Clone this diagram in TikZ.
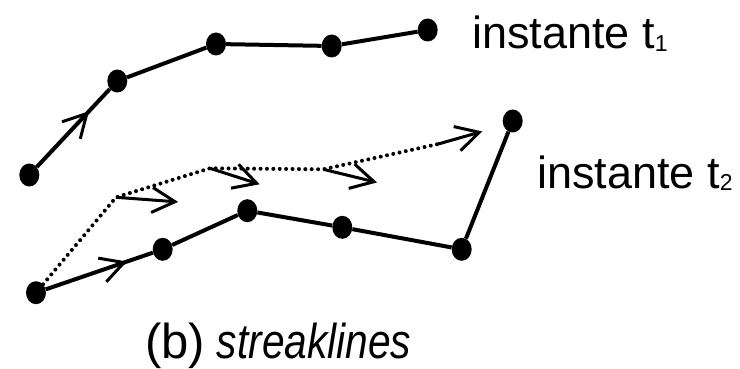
\documentclass[tikz,border=0pt]{standalone}
\usepackage{fontspec}
\setmainfont{Liberation Sans}
\usetikzlibrary{decorations.markings,shapes.geometric}
\begin{document}
\begin{tikzpicture}[x=1pt,y=-1pt,
  pt/.style={ellipse, fill=black, draw=none, inner sep=0pt, minimum width=20pt, minimum height=23pt},
  solidline/.style={line width=4pt},
  dotline/.style={line width=4pt, line cap=round, dash pattern=on 0pt off 6.4pt},
  arrowline/.style={line width=3pt},
  chevron/.style={postaction={decorate}, decoration={markings, mark=at position #1 with {\draw[solid, line width=3pt, line cap=butt, line join=miter, miter limit=10] (-23pt,12.5pt) -- (0pt,0pt) -- (-23pt,-12.5pt);}}},
  lbl/.style={font=\fontsize{45}{54}\selectfont, inner sep=0pt, anchor=base west},
  caplbl/.style={font=\fontsize{49}{56}\selectfont, inner sep=0pt, anchor=base west},
]
\useasboundingbox (0,0) rectangle (740,369);
% instant t1
\node[pt] (A1) at (29.3,175) {};
\node[pt] (A2) at (117.3,81) {};
\node[pt] (A3) at (216,44) {};
\node[pt] (A4) at (331.7,46) {};
\node[pt] (A5) at (427.7,30) {};
% instant t2
\node[pt] (B1) at (36,292.7) {};
\node[pt] (B2) at (162.7,249.3) {};
\node[pt] (B3) at (247.3,210.7) {};
\node[pt] (B4) at (342.3,227.3) {};
\node[pt] (B5) at (461.7,249.3) {};
\node[pt] (B6) at (512.7,121) {};
% solid lines
\draw[solidline] (A1) -- (A2) -- (A3) -- (A4) -- (A5);
\draw[solidline] (B1) -- (B2) -- (B3) -- (B4) -- (B5) -- (B6);
\path[chevron=0.654] (A1.center) -- (A2.center);
\path[chevron=0.695] (B1.center) -- (B2.center);
% dotted path
\coordinate (D1) at (116,197.3);
\coordinate (D2) at (210,168.3);
\coordinate (D3) at (323.3,169.3);
\coordinate (D4) at (438.3,144);
\coordinate (E1) at (175,201.7);
\coordinate (E2) at (256.7,183.3);
\coordinate (E3) at (374,181.7);
\coordinate (E4) at (479.3,132.3);
\draw[dotline] (B1) -- (D1) -- (D2) -- (D3) -- (D4);
\draw[arrowline, chevron=1] (D1) -- (E1);
\draw[arrowline, chevron=1] (D2) -- (E2);
\draw[arrowline, chevron=1] (D3) -- (E3);
\draw[arrowline, chevron=1] (D4) -- (E4);
% labels
\node[lbl] (t1) at (472,48.8) {instante t\raisebox{-2.5pt}{\fontsize{23}{23}\selectfont 1}};
\node[lbl] (t2) at (537,188.3) {instante t\raisebox{-2.5pt}{\fontsize{23}{23}\selectfont 2}};
\node[caplbl] (caption) at (144.8,358) {(b)\hspace{12pt}\scalebox{0.83}[1]{\itshape streaklines}};
\end{tikzpicture}
\end{document}
